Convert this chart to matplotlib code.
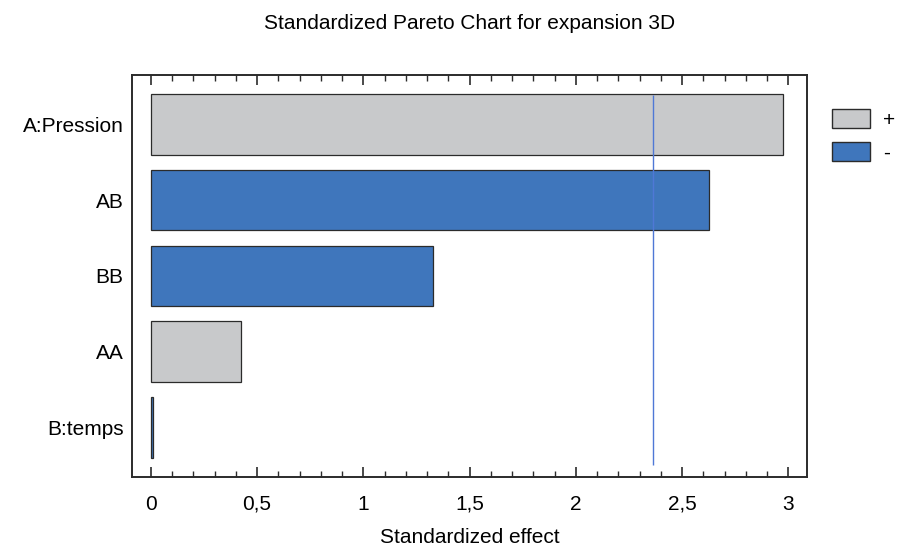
import numpy as np
import matplotlib
matplotlib.use("Agg")
import matplotlib.pyplot as plt
from matplotlib.patches import Patch
from matplotlib.ticker import MultipleLocator, FuncFormatter

# Effects (sorted, largest first) and their sign
factors = ['A:Pression', 'AB', 'BB', 'AA', 'B:temps']
effects = [2.975, 2.625, 1.33, 0.423, 0.008]
signs = ['+', '-', '-', '+', '-']
t_crit = 2.365

gray = '#c8c9cb'
blue = '#3f76bc'
line_blue = '#4f78d6'
edge = '#2b2b2b'

plt.rcParams['font.family'] = ['Liberation Sans Narrow', 'Liberation Sans', 'DejaVu Sans']
fs = 15

fig = plt.figure(figsize=(8.98, 5.52), dpi=100)
ax = fig.add_axes([0.1467, 0.1364, 0.7524, 0.7277])

colors = [gray if s == '+' else blue for s in signs]
ypos = np.arange(len(factors))
ax.barh(ypos, effects, height=0.8, color=colors, edgecolor=edge, linewidth=0.9)

# critical value line
ax.vlines(t_crit, -0.38, 4.5, color=line_blue, linewidth=1.0)

ax.set_xlim(-0.09, 3.09)
ax.set_ylim(len(factors) - 0.35, -0.65)
ax.set_yticks(ypos)
ax.set_yticklabels(factors, fontsize=fs)
ax.tick_params(axis='y', length=0, pad=6)

ax.xaxis.set_major_locator(MultipleLocator(0.5))
ax.xaxis.set_minor_locator(MultipleLocator(0.1))
ax.xaxis.set_major_formatter(FuncFormatter(lambda v, p: f'{v:g}'.replace('.', ',')))
ax.tick_params(axis='x', which='both', direction='in', top=True, bottom=True,
               labelsize=fs, color=edge, pad=13)
ax.tick_params(axis='x', which='major', length=7, width=1.2)
ax.tick_params(axis='x', which='minor', length=4, width=1.0)

for sp in ax.spines.values():
    sp.set_color(edge)
    sp.set_linewidth(1.4)

ax.set_xlabel('Standardized effect', fontsize=fs, labelpad=10)
ax.set_title('Standardized Pareto Chart for expansion 3D', fontsize=fs, pad=33)

handles = [Patch(facecolor=gray, edgecolor=edge, linewidth=1.0, label='+'),
           Patch(facecolor=blue, edgecolor=edge, linewidth=1.0, label='-')]
fig.legend(handles=handles, loc='upper left', bbox_to_anchor=(0.926, 0.803),
           frameon=False, fontsize=fs, handlelength=1.86, handleheight=1.05,
           labelspacing=0.6, handletextpad=0.62, borderaxespad=0, borderpad=0)

fig.savefig('out.png', dpi=100)
